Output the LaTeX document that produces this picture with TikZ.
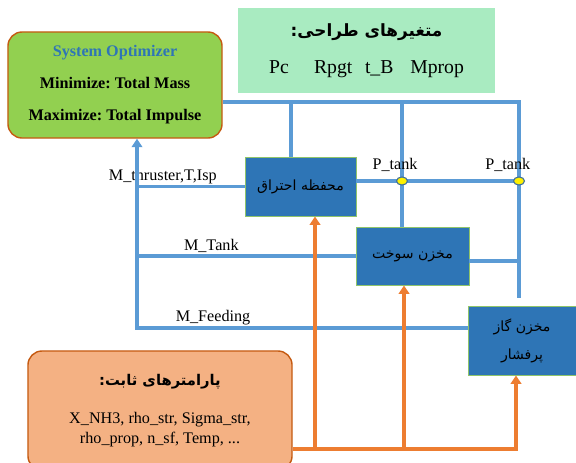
\documentclass[tikz,border=0pt]{standalone}
\usepackage{fontspec}
\setmainfont{Liberation Serif}
\newfontfamily\fa[Script=Arabic]{DejaVu Sans}
\TeXXeTstate=1
\frenchspacing
\usetikzlibrary{positioning,shapes.geometric,arrows.meta}
\definecolor{optgreen}{HTML}{92D050}
\definecolor{brd}{HTML}{C55A11}
\definecolor{vargreen}{HTML}{A9EBC1}
\definecolor{lnblue}{HTML}{5B9BD5}
\definecolor{boxblue}{HTML}{2E75B6}
\definecolor{boxedge}{HTML}{8FC46A}
\definecolor{lnorange}{HTML}{ED7D31}
\definecolor{constfill}{HTML}{F4B183}
\definecolor{titleblue}{HTML}{2E75B6}
\definecolor{dotedge}{HTML}{41719C}
\begin{document}
\begin{tikzpicture}[x=0.025cm, y=-0.025cm,
  every node/.style={font=\fontsize{11.5}{14}\selectfont},
  blk/.style={draw=boxedge, line width=0.6pt, fill=boxblue, align=center, inner sep=0pt},
  bline/.style={draw=lnblue, line width=2.3pt},
  oline/.style={draw=lnorange, line width=2.3pt},
  tip/.style={-{Triangle[length=6pt,width=7.5pt]}},
  lbl/.style={inner sep=1pt},
  dot/.style={ellipse, draw=dotedge, line width=0.8pt, fill=yellow, minimum width=7.8pt, minimum height=5.7pt, inner sep=0pt}]
\useasboundingbox (0,0) rectangle (576,462);
\clip (0,0) rectangle (576,462);

% boxes
\node[draw=brd, line width=1pt, fill=optgreen, rounded corners=10pt, minimum width=5.35cm, minimum height=2.65cm, align=center, font=\bfseries\fontsize{11.5}{22.8}\selectfont] (opt) at (115,85)
{\textcolor{titleblue}{System Optimizer}\\Minimize: Total Mass\\Maximize: Total Impulse};

\node[fill=vargreen, minimum width=6.425cm, minimum height=2.125cm, align=center, font=\fontsize{14}{28.5}\selectfont] (vars) at (366.5,50.5)
{\raisebox{-2pt}{\fa\bfseries\fontsize{12}{14}\selectfont\beginR متغیرهای طراحی:\endR}\\Pc\hspace{18pt}Rpgt\hspace{9pt}t\_B\hspace{12pt}Mprop};

\node[blk, minimum width=2.775cm, minimum height=1.475cm, font=\fa\fontsize{10}{12}\selectfont] (comb) at (300.5,186.5) {\beginR محفظه احتراق\endR};
\node[blk, minimum width=2.825cm, minimum height=1.45cm, font=\fa\fontsize{10}{12}\selectfont] (fuel) at (412.5,256) {\beginR مخزن سوخت\endR};
\node[blk, minimum width=2.7cm, minimum height=1.725cm, font=\fa\fontsize{10}{20}\selectfont] (gas) at (522,340.5) {\beginR مخزن گاز\endR\\\beginR پرفشار\endR};

\node[draw=brd, line width=1pt, fill=constfill, rounded corners=10pt, minimum width=6.6cm, minimum height=2.975cm, align=center] (const) at (160,410.5)
{{\fa\bfseries\fontsize{10.5}{15}\selectfont\beginR پارامترهای ثابت:\endR}\\[13pt]X\_NH3, rho\_str, Sigma\_str,\\rho\_prop, n\_sf, Temp, ...};

% junctions
\coordinate (bus1) at (291,102);
\coordinate (bus2) at (402,102);
\coordinate (bus3) at (519,102);
\coordinate (gasTop) at (519,298);
\coordinate (fuelJ) at (519,261);
\coordinate (p1) at (402,181);
\coordinate (p2) at (519,181);
\coordinate (colB) at (137,328);
\coordinate (oj1) at (315,449);
\coordinate (oj2) at (404,449);
\coordinate (oj3) at (516,449);

% blue links
\draw[bline] (opt.east |- bus3) -- (bus3) -- (gasTop);
\draw[bline] (bus1) -- (comb.north -| bus1);
\draw[bline] (bus2) -- (fuel.north -| bus2);
\draw[bline] (comb.east |- p1) -- (p2);
\draw[bline] (fuel.east |- fuelJ) -- (fuelJ);
\draw[bline] (comb.west) -- (comb.west -| colB) node[lbl, pos=0.76, above] {M\_thruster,T,Isp};
\draw[bline] (fuel.west) -- (fuel.west -| colB) node[lbl, pos=0.66, above] {M\_Tank};
\draw[bline, tip] (gas.west |- colB) -- node[lbl, pos=0.77, above] {M\_Feeding} (colB) -- (opt.south -| colB);

\node[dot] (pt1) at (p1) {};
\node[dot] (pt2) at (p2) {};
\node[lbl, above=2pt of pt1, xshift=-5pt] (ptl1) {P\_tank};
\node[lbl, above=2pt of pt2, xshift=-8pt] (ptl2) {P\_tank};

% orange links
\draw[oline, tip] (const.east |- oj3) -- (oj3) -- (gas.south -| oj3);
\draw[oline, tip] (oj1) -- (comb.south -| oj1);
\draw[oline, tip] (oj2) -- (fuel.south -| oj2);
\end{tikzpicture}
\end{document}
